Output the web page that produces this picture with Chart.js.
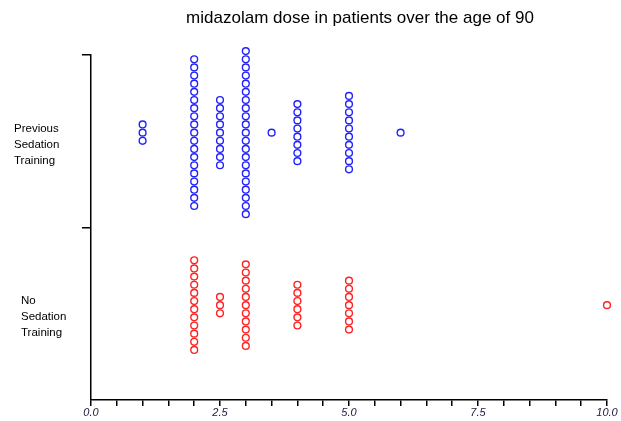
<!DOCTYPE html>
<html>
<head>
<meta charset="utf-8">
<script src="https://cdn.jsdelivr.net/npm/chart.js@4"></script>
<style>
  html, body { margin: 0; padding: 0; background: #fff; }
  #wrap { width: 621px; height: 421px; }
</style>
</head>
<body>
<div id="wrap"><canvas id="dotChart"></canvas></div>
<script>
// midazolam dose values and how many patients got each one
const prevDoses = [1, 2, 2.5, 3, 3.5, 4, 5, 6];
const prevCounts = [3, 19, 9, 21, 1, 8, 10, 1];
const noDoses = [2, 2.5, 3, 4, 5, 10];
const noCounts = [12, 3, 11, 6, 7, 1];

const groupNames = [['Previous', 'Sedation', 'Training'], ['No', 'Sedation', 'Training']];
const groupRows = [3.1, 1.1]; // row position of each group on the y scale
const xTickLabels = ['0.0', '2.5', '5.0', '7.5', '10.0'];
const stackStep = 0.0945; // vertical spacing between stacked dots

// stack the dots of one dose around the group's row
function stackPoints(doses, counts, row) {
    let pts = [];
    for (let i = 0; i < doses.length; i++) {
        for (let k = 0; k < counts[i]; k++) {
            pts.push({ x: doses[i], y: row + (k - (counts[i] - 1) / 2) * stackStep });
        }
    }
    return pts;
}

// title + group names
const textPlugin = {
    id: 'textPlugin',
    afterDraw(chart) {
        const ctx = chart.ctx;
        const y = chart.scales.y;
        ctx.save();
        ctx.fillStyle = '#000';
        ctx.font = '17px "Liberation Sans", Arial, sans-serif';
        ctx.textAlign = 'center';
        ctx.textBaseline = 'middle';
        ctx.fillText('midazolam dose in patients over the age of 90', 360, 18);

        ctx.font = '11.5px "Liberation Sans", Arial, sans-serif';
        ctx.textAlign = 'left';
        const lefts = [14, 21];
        for (let g = 0; g < groupNames.length; g++) {
            const mid = y.getPixelForValue(groupRows[g]) + 12;
            groupNames[g].forEach((line, j) => {
                ctx.fillText(line, lefts[g], mid + (j - 1) * 16);
            });
        }
        ctx.restore();
    }
};

new Chart(document.getElementById('dotChart'), {
    type: 'scatter',
    data: {
        datasets: [{
            label: 'Previous Sedation Training',
            data: stackPoints(prevDoses, prevCounts, groupRows[0]),
            borderColor: '#2222ff',
            backgroundColor: '#ffffff',
            pointRadius: 3.4,
            borderWidth: 1.4,
            clip: false
        }, {
            label: 'No Sedation Training',
            data: stackPoints(noDoses, noCounts, groupRows[1]),
            borderColor: '#ff2222',
            backgroundColor: '#ffffff',
            pointRadius: 3.4,
            borderWidth: 1.4,
            clip: false
        }]
    },
    plugins: [textPlugin],
    options: {
        responsive: true,
        maintainAspectRatio: false,
        animation: false,
        layout: { padding: { left: 81, right: 14, top: 55, bottom: 0 } },
        plugins: {
            legend: { display: false },
            tooltip: { enabled: false }
        },
        scales: {
            x: {
                type: 'linear',
                min: 0,
                max: 10,
                afterFit: (scale) => { scale.height = 21; },
                border: { display: true, color: '#000', width: 1.5 },
                grid: { drawOnChartArea: false, color: '#000', tickLength: 6, lineWidth: 1.5 },
                ticks: {
                    stepSize: 0.5,
                    autoSkip: false,
                    maxRotation: 0,
                    padding: 0,
                    color: '#1a1a3a',
                    font: { family: '"Liberation Sans", Arial, sans-serif', size: 11, style: 'italic' },
                    callback: (v) => {
                        const idx = xTickLabels.indexOf(v.toFixed(1));
                        return idx >= 0 ? xTickLabels[idx] : '';
                    }
                }
            },
            y: {
                type: 'linear',
                min: 0,
                max: 4,
                afterFit: (scale) => { scale.width = 10; },
                afterBuildTicks: (scale) => { scale.ticks = scale.ticks.filter(t => t.value > 0); },
                border: { display: true, color: '#000', width: 1.5 },
                grid: { drawOnChartArea: false, color: '#000', tickLength: 9, lineWidth: 1.5 },
                ticks: { stepSize: 2, display: false }
            }
        }
    }
});
</script>
</body>
</html>
